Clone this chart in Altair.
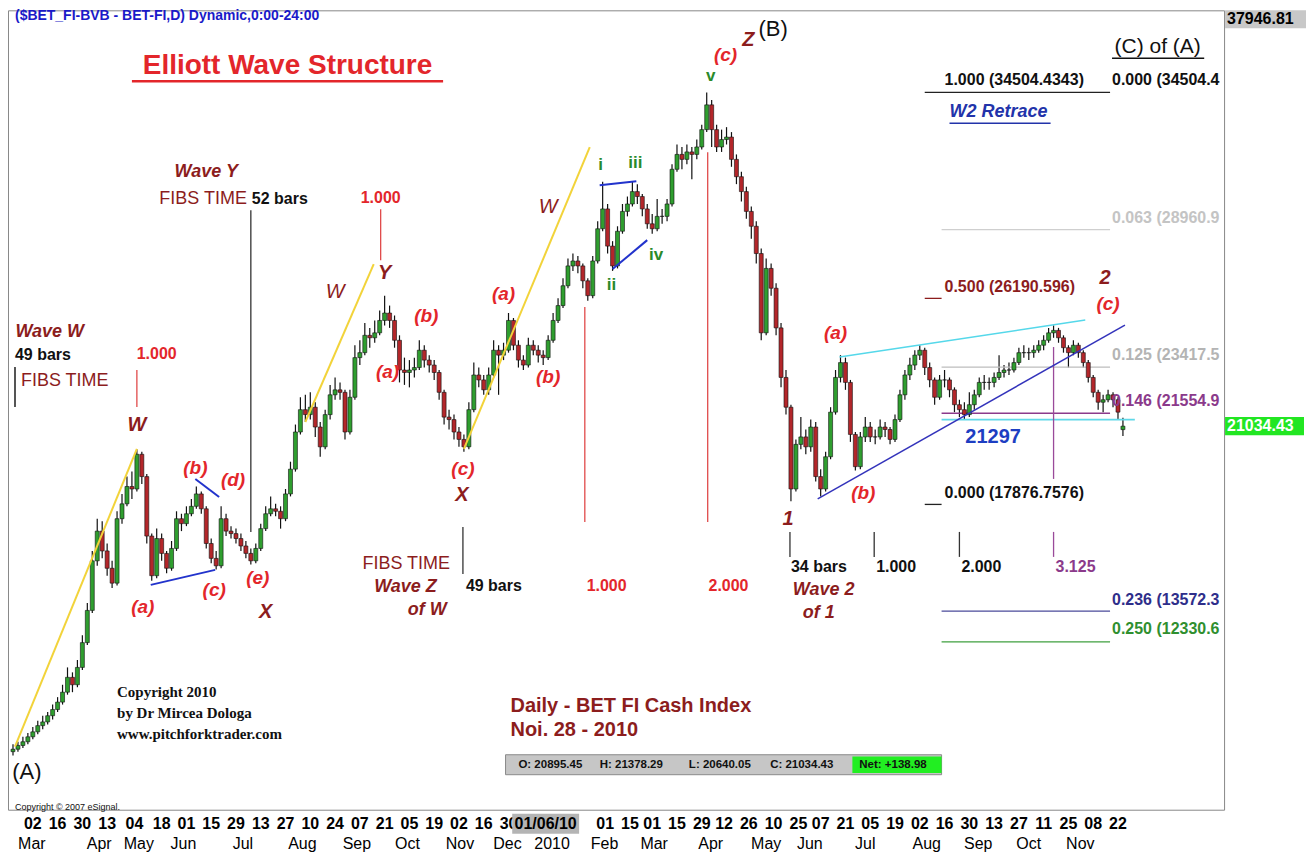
import altair as alt
import pandas as pd

# ---------------- price data (one candle per 2 trading days) ----------------
opens = [7900, 8000, 8150, 8300, 8500, 8700, 8950, 9100, 9350, 9600,
         9900, 10300, 10900, 10600, 11300, 12300, 13600, 15600, 16800, 16000,
         15300, 14700, 17300, 17900, 18600, 18500, 19900, 19000, 16600, 15000,
         16500, 15900, 15300, 16100, 17300, 17100, 17500, 17800, 18300, 17700,
         16300, 15700, 15400, 17300, 16800, 16700, 16500, 16200, 15900, 15600,
         16100, 16900, 17500, 17700, 17600, 17300, 18300, 19300, 20800, 21700,
         21500, 21800, 21000, 20200, 21500, 22300, 22500, 22400, 20800, 22200,
         23800, 24000, 24700, 24600, 24800, 25300, 25600, 25300, 24500, 23300,
         23200, 23300, 23400, 24100, 23700, 23500, 23200, 22400, 21400, 21300,
         20800, 20500, 20200, 21700, 23100, 22900, 22500, 23100, 24100, 23900,
         24100, 25300, 24300, 23700, 23500, 24300, 24100, 23900, 23800, 24500,
         25300, 25900, 26700, 27500, 27700, 27500, 26900, 26300, 27700, 29000,
         29800, 28300, 27500, 28900, 29700, 30000, 30500, 30300, 29800, 29200,
         29000, 29500, 29500, 30000, 31400, 32000, 31800, 32100, 32000, 32300,
         33000, 34000, 33000, 32300, 32600, 32700, 31800, 31100, 30500, 29700,
         29100, 28000, 24800, 27400, 26600, 25000, 23000, 21800, 18500, 20300,
         20600, 20200, 21000, 19000, 18500, 19800, 21600, 23000, 23600, 22800,
         20700, 19400, 20600, 21000, 20600, 20600, 21000, 20900, 20500, 21300,
         22300, 23100, 23500, 23900, 24100, 23400, 22900, 22200, 22900, 22900,
         22500, 21900, 21700, 21500, 21900, 22300, 22800, 22800, 22800, 23000,
         23200, 23300, 23300, 23600, 24000, 24000, 24000, 24100, 24300, 24500,
         24800, 24900, 24600, 24200, 24000, 24300, 24000, 23600, 23000, 22400,
         22000, 22100, 22300, 22100, 20895]

closes = [8000, 8150, 8300, 8500, 8700, 8950, 9100, 9350, 9600, 9900,
          10300, 10900, 10600, 11300, 12300, 13600, 15600, 16800, 16000, 15300,
          14700, 17300, 17900, 18600, 18500, 19900, 19000, 16600, 15000, 16500,
          15900, 15300, 16100, 17300, 17100, 17500, 17800, 18300, 17700, 16300,
          15700, 15400, 17300, 16800, 16700, 16500, 16200, 15900, 15600, 16100,
          16900, 17500, 17700, 17600, 17300, 18300, 19300, 20800, 21700, 21500,
          21800, 21000, 20200, 21500, 22300, 22500, 22400, 20800, 22200, 23800,
          24000, 24700, 24600, 24800, 25300, 25600, 25300, 24500, 23300, 23200,
          23300, 23400, 24100, 23700, 23500, 23200, 22400, 21400, 21300, 20800,
          20500, 20200, 21700, 23100, 22900, 22500, 23100, 24100, 23900, 24100,
          25300, 24300, 23700, 23500, 24300, 24100, 23900, 23800, 24500, 25300,
          25900, 26700, 27500, 27700, 27500, 26900, 26300, 27700, 29000, 29800,
          28300, 27500, 28900, 29700, 30000, 30500, 30300, 29800, 29200, 29000,
          29500, 29500, 30000, 31400, 32000, 31800, 32100, 32000, 32300, 33000,
          34000, 33000, 32300, 32600, 32700, 31800, 31100, 30500, 29700, 29100,
          28000, 24800, 27400, 26600, 25000, 23000, 21800, 18500, 20300, 20600,
          20200, 21000, 19000, 18500, 19800, 21600, 23000, 23600, 22800, 20700,
          19400, 20600, 21000, 20600, 20600, 21000, 20900, 20500, 21300, 22300,
          23100, 23500, 23900, 24100, 23400, 22900, 22200, 22900, 22900, 22500,
          21900, 21700, 21500, 21900, 22300, 22800, 22800, 22800, 23000, 23200,
          23300, 23300, 23600, 24000, 24000, 24000, 24100, 24300, 24500, 24800,
          24900, 24600, 24200, 24000, 24300, 24000, 23600, 23000, 22400, 22000,
          22100, 22300, 22100, 21600, 21034.43]

highs = [8200, 8300, 8500, 8650, 8900, 9150, 9350, 9500, 9800, 10100,
         10600, 11300, 11100, 11600, 12600, 13900, 16000, 17300, 17200, 16300,
         15600, 17600, 18300, 19000, 19200, 20100, 20000, 19100, 16700, 16900,
         16700, 16000, 16400, 17600, 17500, 17800, 18100, 18600, 18400, 17800,
         16500, 16000, 17800, 17500, 17000, 16900, 16700, 16400, 16100, 16300,
         17100, 17800, 18200, 17900, 17800, 18500, 19600, 21100, 22200, 22300,
         22400, 22000, 21200, 21700, 22700, 23000, 22800, 22500, 22500, 24300,
         24500, 25200, 25000, 25300, 25700, 26300, 25900, 25500, 24700, 23800,
         23700, 23800, 24500, 24300, 23900, 23700, 23300, 22500, 21700, 21500,
         21000, 20700, 22000, 23600, 23400, 23100, 23400, 24500, 24300, 24400,
         25600, 25400, 24500, 23900, 24600, 24500, 24300, 24100, 24700, 25600,
         26200, 27000, 27800, 28000, 27900, 27600, 27000, 27900, 29300, 30900,
         30000, 28500, 29100, 30000, 30300, 30900, 30800, 30400, 30000, 29600,
         30200, 29800, 30200, 31600, 32400, 32300, 32400, 32300, 32600, 33200,
         34500, 34200, 33200, 33000, 33100, 32900, 32000, 31300, 30700, 29900,
         29300, 28200, 27800, 27600, 26800, 25200, 23300, 21900, 20500, 21400,
         20900, 21300, 21200, 19300, 20000, 21800, 23300, 23900, 23800, 22900,
         20800, 20800, 21400, 21200, 20900, 21300, 21200, 21000, 21500, 22500,
         23300, 23800, 24100, 24300, 24200, 23600, 23000, 23100, 23300, 23000,
         22600, 22100, 22000, 22400, 22500, 23000, 23100, 23000, 23200, 23900,
         23500, 23600, 23800, 24200, 24300, 24200, 24300, 24500, 24700, 25000,
         25100, 25000, 24700, 24300, 24500, 24400, 24100, 23700, 23100, 22500,
         22300, 22500, 22400, 22200, 21378.29]

lows = [7750, 7900, 8050, 8200, 8400, 8600, 8800, 9000, 9200, 9500,
        9800, 10200, 10300, 10500, 11200, 12200, 13500, 15400, 15700, 15000,
        14500, 14600, 17100, 17800, 18100, 18400, 18700, 16300, 14800, 14900,
        15600, 15100, 15200, 16000, 16800, 17000, 17400, 17700, 17500, 16100,
        15500, 15250, 15300, 16600, 16500, 16300, 16000, 15700, 15450, 15500,
        16000, 16800, 17400, 17400, 16900, 17200, 18200, 19200, 20700, 21200,
        21300, 20600, 19800, 20100, 21300, 22100, 22100, 20500, 20700, 22100,
        23500, 23900, 24200, 24400, 24700, 25100, 25000, 24200, 22800, 22700,
        22600, 23000, 23300, 23400, 23200, 22900, 22100, 21100, 20900, 20500,
        20200, 20000, 20100, 21600, 22600, 22300, 22300, 23000, 22300, 23700,
        24000, 24100, 23400, 23300, 23400, 23900, 23600, 23500, 23700, 24400,
        25200, 25800, 26600, 27300, 27200, 26600, 26100, 26200, 27600, 28900,
        28000, 27300, 27400, 28800, 29500, 29900, 30000, 29500, 29000, 28800,
        28900, 29200, 29300, 29900, 31300, 31400, 31600, 31000, 31800, 32200,
        32900, 32300, 32100, 32100, 32400, 31500, 30800, 30100, 29400, 28600,
        27600, 24500, 24700, 26300, 24700, 22600, 21500, 18000, 18400, 20100,
        19900, 20000, 18800, 18200, 18400, 19700, 21500, 22800, 22500, 20400,
        19250, 19300, 20400, 20400, 20300, 20500, 20600, 20300, 20400, 21200,
        22100, 22900, 23300, 23700, 23100, 22600, 21900, 22100, 22600, 22200,
        21600, 21400, 21300, 21400, 21700, 22200, 22500, 22500, 22600, 22900,
        23000, 23100, 23200, 23500, 23800, 23700, 23800, 24000, 24100, 24400,
        24600, 24400, 24000, 23400, 23900, 23800, 23400, 22800, 22200, 21700,
        21600, 22000, 21800, 21300, 20640.05]

bar_index = list(range(0, 450, 2))  # trading-day index of each candle

# ---------------- axis labels ----------------
day_idx = [8, 18, 28, 38, 49, 60, 70, 80, 90, 100, 110, 120, 130, 140, 150, 160, 170,
           180, 190, 200, 239, 249, 258, 268, 278, 287, 297, 307, 317, 326, 336, 346,
           356, 366, 376, 386, 396, 406, 416, 426, 436, 446]
day_labels = ["02", "16", "30", "13", "04", "18", "01", "15", "29", "13", "27", "10", "24",
              "07", "21", "05", "19", "02", "16", "30", "01", "15", "01", "15", "29", "12",
              "26", "10", "25", "07", "21", "05", "19", "02", "16", "30", "13", "27", "11",
              "25", "08", "22"]
cursor_idx = 215
cursor_label = "01/06/10"
month_idx = [7.6, 34.8, 50.8, 68.8, 92.8, 116.8, 138.8, 159.2, 180.4, 199.6, 217.6, 238.8,
             258.8, 281.6, 304, 321.6, 344, 368.8, 389.6, 410, 430.8]
month_labels = ["Mar", "Apr", "May", "Jun", "Jul", "Aug", "Sep", "Oct", "Nov", "Dec", "2010",
                "Feb", "Mar", "Apr", "May", "Jun", "Jul", "Aug", "Sep", "Oct", "Nov"]
price_ticks = list(range(6000, 36001, 2000))

# ---------------- annotation lines (index, price) ----------------
yellow_lines = [(0.8, 8099, 50, 20114), (118, 21203, 145.6, 27573), (182, 20114, 232.8, 32291)]
blue_short = [(55.6, 14630, 81.6, 15235), (73.6, 18904, 83.2, 18179),
              (236.8, 30758, 251.6, 30920), (242, 27372, 256, 28541)]
blue_trend = [(324.8, 18098, 448.8, 25114)]
cyan_trend = [(333.6, 23823, 432.8, 25315)]
red_vlines = [(50, 23300, 50, 21808), (148.4, 29791, 148.4, 27734),
              (230.8, 25839, 230.8, 17171), (280.4, 32089, 280.4, 17171)]
dark_vlines = [(96, 29750, 96, 16767), (181.6, 16969, 181.6, 15074),
               (313.6, 16767, 313.6, 15759), (347.6, 16767, 347.6, 15759),
               (382, 16767, 382, 15759)]
gray_vlines = [(0.8, 23421, 0.8, 21808)]
purple_vlines = [(420, 24227, 420, 18905), (420, 16767, 420, 15759)]
fib_black = [(368, 34504.43, 442.8, 34504.43), (368, 17876.76, 374.8, 17876.76)]
fib_dred = [(368, 26190.6, 374.8, 26190.6)]
fib_lgray = [(374.8, 28960.9, 442.8, 28960.9)]
fib_gray = [(374.8, 23417.5, 442.8, 23417.5)]
fib_purple = [(374.8, 21554.9, 442.8, 21554.9)]
fib_cyan = [(374.8, 21297, 452.8, 21297)]
fib_navy = [(374.8, 13572.3, 442.8, 13572.3)]
fib_green = [(374.8, 12330.6, 442.8, 12330.6)]

# ---------------- annotation texts (text, index, price) ----------------
red_wave = [("(b)", 166.8, 25477), ("(a)", 151.2, 23219), ("(a)", 198, 26363), ("(b)", 216, 23017),
            ("(c)", 181.6, 19307), ("(b)", 73.6, 19348), ("(d)", 88.8, 18864), ("(a)", 52.4, 13743),
            ("(c)", 81.2, 14429), ("(e)", 98.8, 14913), ("(a)", 332, 24791), ("(b)", 343.2, 18340),
            ("(c)", 442, 25960), ("(c)", 287.6, 36000)]
dred_letters = [("W", 50, 21082), ("X", 102, 13542), ("X", 181.2, 18259), ("Y", 150, 27210),
                ("Z", 296.8, 36605), ("1", 312.8, 17292), ("2", 440.8, 27009)]
dred_waves = [("Wave W", 14.8, 24832), ("Wave Y", 78, 31283), ("Wave Z", 158.4, 14550),
              ("of W", 167.2, 13622), ("Wave 2", 327.2, 14429), ("of 1", 325.2, 13502)]
thin_w = [("W", 130, 26444), ("W", 216, 29871)]
fibs_left = [("FIBS TIME", 3.2, 22856)]
fibs_right = [("FIBS TIME", 94.4, 30194), ("FIBS TIME", 176.4, 15477)]
red_ratios = [("1.000", 58, 23944), ("1.000", 148.4, 30234), ("1.000", 239.6, 14590),
              ("2.000", 288.8, 14590)]
black_bars = [("49 bars", 0.8, 23904), ("52 bars", 96.4, 30194), ("49 bars", 182.8, 14590),
              ("34 bars", 314, 15356), ("1.000", 348.4, 15356), ("2.000", 382.8, 15356)]
purple_ratio = [("3.125", 420.8, 15356)]
green_sub = [("i", 237.2, 31565), ("iii", 251.2, 31645), ("ii", 241.6, 26726),
             ("iv", 259.6, 27936), ("v", 281.6, 35153)]
fib_texts_black = [("1.000 (34504.4343)", 376, 34992), ("0.000 (17876.7576)", 376, 18340)]
fib_texts_dred = [("0.500 (26190.596)", 376, 26646)]
right_fibs = [("0.000 (34504.4", 443.6, 34992, "#111111"),
              ("0.063 (28960.9", 443.6, 29428, "#c4c4c4"),
              ("0.125 (23417.5", 443.6, 23904, "#b4b4b4"),
              ("0.146 (21554.9", 443.6, 22049, "#8b3a8b"),
              ("0.236 (13572.3", 443.6, 14026, "#2e2e8a"),
              ("0.250 (12330.6", 443.6, 12857, "#2f8f2f")]
ohlc_texts = [("O: 20895.45", 204, 7373), ("H: 21378.29", 236.8, 7373), ("L: 20640.05", 272.8, 7373),
              ("C: 21034.43", 305.6, 7373), ("Net: +138.98", 341.6, 7373)]
copyright_lines = [("Copyright 2010", 42, 10316), ("by Dr Mircea Dologa", 42, 9469),
                   ("www.pitchforktrader.com", 42, 8623)]
info_lines = [("Daily - BET FI Cash Index", 200.8, 9751), ("Noi. 28 - 2010", 200.8, 8784)]
last_price = 21034.43
top_price = "37946.81"

# ---------------- styles ----------------
W, H = 1217, 800
FONT = "Liberation Sans"
RED = "#e3262b"
DRED = "#8c1d1d"
UP = "#2f9e2f"
DOWN = "#b3262a"

xs = alt.Scale(domain=[0, 486.8], nice=False, zero=False)
ys = alt.Scale(domain=[5558, 37814], nice=False, zero=False)


def XQ(f="idx"):
    return alt.X(f"{f}:Q", scale=xs, axis=None)


def YQ(f="val"):
    return alt.Y(f"{f}:Q", scale=ys, axis=None)


def segs(items, color, width=1.5):
    df = pd.DataFrame(items, columns=["x1", "y1", "x2", "y2"])
    return alt.Chart(df).mark_rule(color=color, strokeWidth=width).encode(
        x=XQ("x1"), y=YQ("y1"), x2="x2:Q", y2="y2:Q")


def texts(items, color, size, weight="bold", style="normal", align="center",
          font=FONT, clip=False):
    df = pd.DataFrame(items, columns=["text", "idx", "val"])
    return alt.Chart(df).mark_text(
        color=color, fontSize=size, fontWeight=weight, fontStyle=style, align=align,
        baseline="middle", font=font, clip=clip).encode(x=XQ(), y=YQ(), text="text:N")


candles = pd.DataFrame({"idx": bar_index, "o": opens, "h": highs, "l": lows, "c": closes})

x_axis = alt.Axis(values=day_idx, grid=True, gridColor="#eeeeee", labels=False, ticks=False,
                  domain=False, title=None)
y_axis = alt.Axis(orient="right", values=price_ticks, format=".2f", labelFont=FONT,
                  labelFontWeight="bold", labelFontSize=16, labelColor="#000", tickSize=4,
                  tickColor="#000", domainColor="#333", domainWidth=1.5, grid=True,
                  gridColor="#eeeeee", title=None, labelPadding=2)

wicks = alt.Chart(candles).mark_rule(color="#111", strokeWidth=1.2).encode(
    x=alt.X("idx:Q", scale=xs, axis=x_axis),
    y=alt.Y("l:Q", scale=ys, axis=y_axis), y2="h:Q")
bodies = alt.Chart(candles).mark_bar(size=4, stroke="#111", strokeWidth=0.6).encode(
    x=XQ(), y=YQ("o"), y2="c:Q",
    color=alt.condition("datum.c >= datum.o", alt.value(UP), alt.value(DOWN)))

one = pd.DataFrame({"a": [0]})

# bottom date labels
days = alt.Chart(pd.DataFrame({"idx": day_idx, "text": day_labels})).mark_text(
    font=FONT, fontSize=16, fontWeight="bold", baseline="middle", color="#000").encode(
    x=XQ(), y=alt.value(H + 14), text="text:N")
cursor_box = alt.Chart(pd.DataFrame({"x1": [cursor_idx - 13.5], "x2": [cursor_idx + 13.5]})).mark_rect(
    color="#b4b4b4").encode(x=XQ("x1"), x2="x2:Q", y=alt.value(H + 4), y2=alt.value(H + 24))
cursor_txt = alt.Chart(pd.DataFrame({"idx": [cursor_idx], "text": [cursor_label]})).mark_text(
    font=FONT, fontSize=16, fontWeight="bold", baseline="middle", color="#000").encode(
    x=XQ(), y=alt.value(H + 14), text="text:N")
months = alt.Chart(pd.DataFrame({"idx": month_idx, "text": month_labels})).mark_text(
    font=FONT, fontSize=16, baseline="middle", color="#000").encode(
    x=XQ(), y=alt.value(H + 34), text="text:N")

# right-hand price boxes
top_box = alt.Chart(one).mark_rect(color="#c8c8c8").encode(
    x=alt.value(W + 1), x2=alt.value(W + 82), y=alt.value(0), y2=alt.value(18))
top_txt = alt.Chart(pd.DataFrame({"t": [top_price]})).mark_text(
    font=FONT, fontSize=16, fontWeight="bold", align="left", baseline="middle", color="#000").encode(
    x=alt.value(W + 3), y=alt.value(9), text="t:N")
last_df = pd.DataFrame({"v": [last_price], "v1": [last_price + 370], "v2": [last_price - 370],
                        "t": [f"{last_price:.2f}"]})
last_box = alt.Chart(last_df).mark_rect(color="#22e622").encode(
    x=alt.value(W + 1), x2=alt.value(W + 80), y=YQ("v1"), y2="v2:Q")
last_txt = alt.Chart(last_df).mark_text(
    font=FONT, fontSize=16, fontWeight="bold", align="left", baseline="middle", color="#ffffff").encode(
    x=alt.value(W + 3), y=YQ("v"), text="t:N")

# OHLC strip
ohlc_gray = alt.Chart(pd.DataFrame({"x1": [198.8], "x2": [374.8], "y1": [7776], "y2": [6970]})).mark_rect(
    color="#c6c6c6", stroke="#8a8a8a", strokeWidth=1).encode(x=XQ("x1"), x2="x2:Q", y=YQ("y1"), y2="y2:Q")
ohlc_green = alt.Chart(pd.DataFrame({"x1": [338.8], "x2": [374.8], "y1": [7700], "y2": [7040]})).mark_rect(
    color="#22ee22").encode(x=XQ("x1"), x2="x2:Q", y=YQ("y1"), y2="y2:Q")

right_fib_layers = [texts([(t, i, v)], c, 16, align="left", clip=True) for t, i, v, c in right_fibs]

layers = [
    wicks,
    segs(fib_black, "#222", 1.3), segs(fib_dred, DRED, 1.3), segs(fib_lgray, "#cfcfcf", 1.3),
    segs(fib_gray, "#bdbdbd", 1.3), segs(fib_purple, "#8b3a8b", 1.3), segs(fib_cyan, "#5fd8e8", 1.6),
    segs(fib_navy, "#4a4a9a", 1.3), segs(fib_green, "#3f9f3f", 1.3),
    segs(red_vlines, "#e04a4a", 1.3), segs(dark_vlines, "#333", 1.3), segs(gray_vlines, "#555", 2),
    segs(purple_vlines, "#9a4a9a", 1.3),
    bodies,
    segs(yellow_lines, "#f2d33a", 2), segs(blue_short, "#2233cc", 2),
    segs(blue_trend, "#3333bb", 1.5), segs(cyan_trend, "#55d8ea", 1.6),
    # title
    texts([("Elliott Wave Structure", 110.8, 35556)], RED, 28),
    segs([(48, 34952, 173.6, 34952)], RED, 2.5),
    texts([("($BET_FI-BVB - BET-FI,D) Dynamic,0:00-24:00", 0.8, 37573)], "#1a1ac8", 14, align="left"),
    texts([("(C) of (A)", 462, 36323)], "#111", 21, weight="normal"),
    segs([(443.6, 35879, 480.8, 35879)], "#111", 1.5),
    texts([("(B)", 306.8, 37048)], "#111", 22, weight="normal"),
    texts([("(A)", 5.6, 7090)], "#111", 22, weight="normal"),
    texts([("W2 Retrace", 378, 33702)], "#2233aa", 18, style="italic", align="left"),
    segs([(378, 33258, 418.8, 33258)], "#2233aa", 1.5),
    texts([("21297", 395.6, 20597)], "#1d3ec2", 20),
    texts(red_wave, RED, 19, style="italic"),
    texts(dred_letters, DRED, 20, style="italic"),
    texts(dred_waves, DRED, 18, style="italic"),
    texts(thin_w, DRED, 20, weight="normal", style="italic"),
    texts(fibs_left, DRED, 18, weight="normal", align="left"),
    texts(fibs_right, DRED, 18, weight="normal", align="right"),
    texts(red_ratios, RED, 16),
    texts(black_bars, "#111", 16, align="left"),
    texts(purple_ratio, "#8b3a8b", 16, align="left"),
    texts(green_sub, "#2a8a2a", 17),
    texts(fib_texts_black, "#111", 16, align="left"),
    texts(fib_texts_dred, DRED, 16, align="left"),
    *right_fib_layers,
    texts(info_lines, DRED, 20, align="left"),
    texts(copyright_lines, "#111", 15, align="left", font="Liberation Serif"),
    texts([("Copyright \u00a9 2007 eSignal.", 0.8, 5679)], "#111", 9, weight="normal", align="left"),
    ohlc_gray, ohlc_green,
    texts(ohlc_texts, "#111", 11.5, align="left"),
    days, cursor_box, cursor_txt, months,
    top_box, top_txt, last_box, last_txt,
]

chart = alt.layer(*layers).properties(
    width=W, height=H, background="white",
    padding={"left": 0, "right": 0, "top": 0, "bottom": 0},
).configure_view(stroke="#888", strokeWidth=1)

chart.save("out.html", embed_options={"renderer": "svg", "actions": False})
